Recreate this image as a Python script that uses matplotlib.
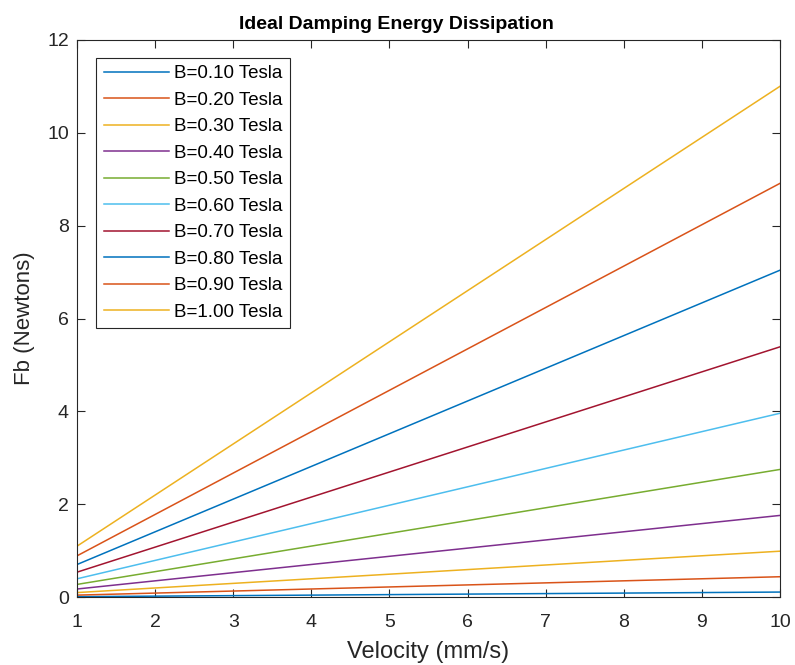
import numpy as np
import matplotlib
matplotlib.use('Agg')
import matplotlib.pyplot as plt

plt.rcParams['font.family'] = ['Liberation Sans', 'DejaVu Sans']

# field strengths and force at both ends of the velocity range
fields   = [0.10, 0.20, 0.30, 0.40, 0.50, 0.60, 0.70, 0.80, 0.90, 1.00]
velocity = [1, 10]
force_v1  = [0.011, 0.044, 0.099, 0.176, 0.275, 0.396, 0.539, 0.704, 0.891, 1.10]
force_v10 = [0.11, 0.44, 0.99, 1.76, 2.75, 3.96, 5.39, 7.04, 8.91, 11.0]

colors = ['#0072BD', '#D95319', '#EDB120', '#7E2F8E', '#77AC30',
          '#4DBEEE', '#A2142F']

fig = plt.figure(figsize=(7.95, 6.65), dpi=100)
ax = fig.add_axes([0.097, 0.102, 0.884, 0.838])

for i, b in enumerate(fields):
    ax.plot(velocity, [force_v1[i], force_v10[i]], color=colors[i % len(colors)],
            lw=1.1, label=f'B={b:.2f} Tesla')

ax.set_xlim(1, 10)
ax.set_ylim(0, 12)
ax.set_xticks(range(1, 11))
ax.set_yticks(range(0, 13, 2))
ax.tick_params(direction='in', top=True, right=True, labelsize=14,
               colors='#262626', length=6, width=0.8)
ax.tick_params(axis='x', pad=12)
ax.tick_params(axis='y', pad=6)
for s in ax.spines.values():
    s.set_color('#262626')
    s.set_linewidth(0.8)

ax.set_xlabel('Velocity (mm/s)', fontsize=17, color='#262626', labelpad=7)
ax.set_ylabel('Fb (Newtons)', fontsize=16, color='#262626', labelpad=9)
ax.set_title('Ideal Damping Energy Dissipation', fontsize=14, fontweight='bold',
             x=0.455, pad=8)

leg = ax.legend(loc='upper left', bbox_to_anchor=(0.027, 0.968), fontsize=13.5,
                handlelength=3.5, handletextpad=0.27, labelspacing=0.5,
                borderpad=0.4, borderaxespad=0, fancybox=False, framealpha=1,
                edgecolor='#262626')
leg.get_frame().set_linewidth(0.8)

plt.savefig('out.png', dpi=100)
